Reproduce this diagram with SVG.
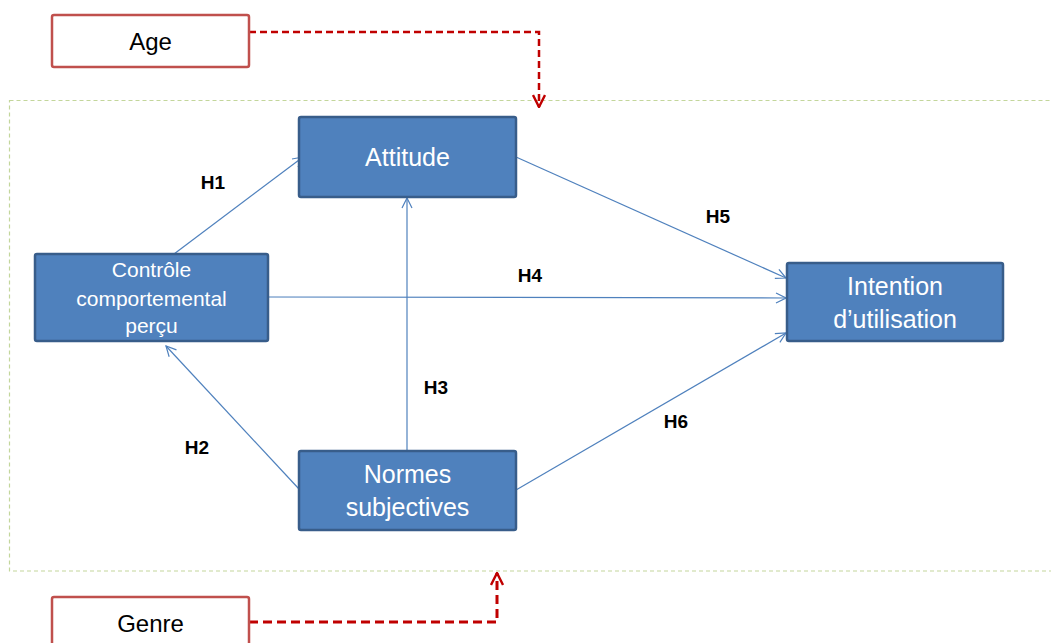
<svg xmlns="http://www.w3.org/2000/svg" width="1051" height="643" viewBox="0 0 1051 643">
<defs>
<style>
.node{fill:#4F81BD;stroke:#385D8A;stroke-width:2.5}
.mod{fill:#FFFFFF;stroke:#C0504D;stroke-width:2.5}
.wt{font-family:"Liberation Sans",Arial,sans-serif;fill:#FFFFFF;text-anchor:middle}
.bt{font-family:"Liberation Sans",Arial,sans-serif;fill:#000000;text-anchor:middle;font-size:24px}
.hl{font-family:"Liberation Sans",Arial,sans-serif;fill:#000000;text-anchor:middle;font-size:19px;font-weight:bold}
.c{stroke:#4F81BD;stroke-width:1.2;fill:none}
.r{stroke:#C00000;stroke-width:2.5;fill:none;stroke-dasharray:7 4}
.r2{stroke:#C00000;stroke-width:3;fill:none;stroke-dasharray:9 5}
</style>
<marker id="ab" viewBox="0 0 12 12" refX="11" refY="6" markerWidth="12" markerHeight="12" markerUnits="userSpaceOnUse" orient="auto">
<path d="M1,1 L11,6 L1,11" fill="none" stroke="#4F81BD" stroke-width="1.2"/>
</marker>
<marker id="ar" viewBox="0 0 14 14" refX="13" refY="7" markerWidth="14" markerHeight="14" markerUnits="userSpaceOnUse" orient="auto">
<path d="M1,1 L13,7 L1,13" fill="none" stroke="#C00000" stroke-width="2.4"/>
</marker>
</defs>
<rect width="1051" height="643" fill="#FFFFFF"/>
<rect id="frame" x="9.5" y="100.5" width="1060" height="470.5" fill="none" stroke="#C3D69B" stroke-width="1.2" stroke-dasharray="4 3"/>
<g id="connectors">
<line class="c" x1="174" y1="254" x2="303" y2="157" marker-end="url(#ab)"/>
<line class="c" x1="516" y1="157" x2="786" y2="278" marker-end="url(#ab)"/>
<line class="c" x1="268" y1="297" x2="786" y2="298" marker-end="url(#ab)"/>
<line class="c" x1="407" y1="451" x2="407" y2="198" marker-end="url(#ab)"/>
<line class="c" x1="299" y1="489" x2="166" y2="346" marker-end="url(#ab)"/>
<line class="c" x1="516" y1="490" x2="786" y2="333" marker-end="url(#ab)"/>
<polyline class="r" points="249,32 539,32 539,107" marker-end="url(#ar)"/>
<polyline class="r2" points="249,622 497,622 497,573" marker-end="url(#ar)"/>
</g>
<g id="labels">
<text class="hl" x="213" y="189">H1</text>
<text class="hl" x="718" y="223">H5</text>
<text class="hl" x="530" y="282">H4</text>
<text class="hl" x="436" y="394">H3</text>
<text class="hl" x="197" y="454">H2</text>
<text class="hl" x="676" y="428">H6</text>
</g>
<g id="age">
<rect class="mod" x="52" y="15" width="197" height="52" rx="2"/>
<text class="bt" x="150.5" y="50">Age</text>
</g>
<g id="genre">
<rect class="mod" x="52" y="597" width="197" height="60" rx="2"/>
<text class="bt" x="150.5" y="632">Genre</text>
</g>
<g id="attitude">
<rect class="node" x="299" y="117" width="217" height="80" rx="2"/>
<text class="wt" x="407.5" y="166" font-size="25">Attitude</text>
</g>
<g id="controle">
<rect class="node" x="35" y="254" width="233" height="87" rx="2"/>
<text class="wt" x="151.5" y="277" font-size="21">Contrôle</text>
<text class="wt" x="151.5" y="306" font-size="21">comportemental</text>
<text class="wt" x="151.5" y="333" font-size="21">perçu</text>
</g>
<g id="intention">
<rect class="node" x="787" y="263" width="216" height="78" rx="2"/>
<text class="wt" x="895" y="295" font-size="25">Intention</text>
<text class="wt" x="895" y="328" font-size="25">d’utilisation</text>
</g>
<g id="normes">
<rect class="node" x="299" y="451" width="217" height="79" rx="2"/>
<text class="wt" x="407.5" y="483" font-size="25">Normes</text>
<text class="wt" x="407.5" y="516" font-size="25">subjectives</text>
</g>
</svg>
